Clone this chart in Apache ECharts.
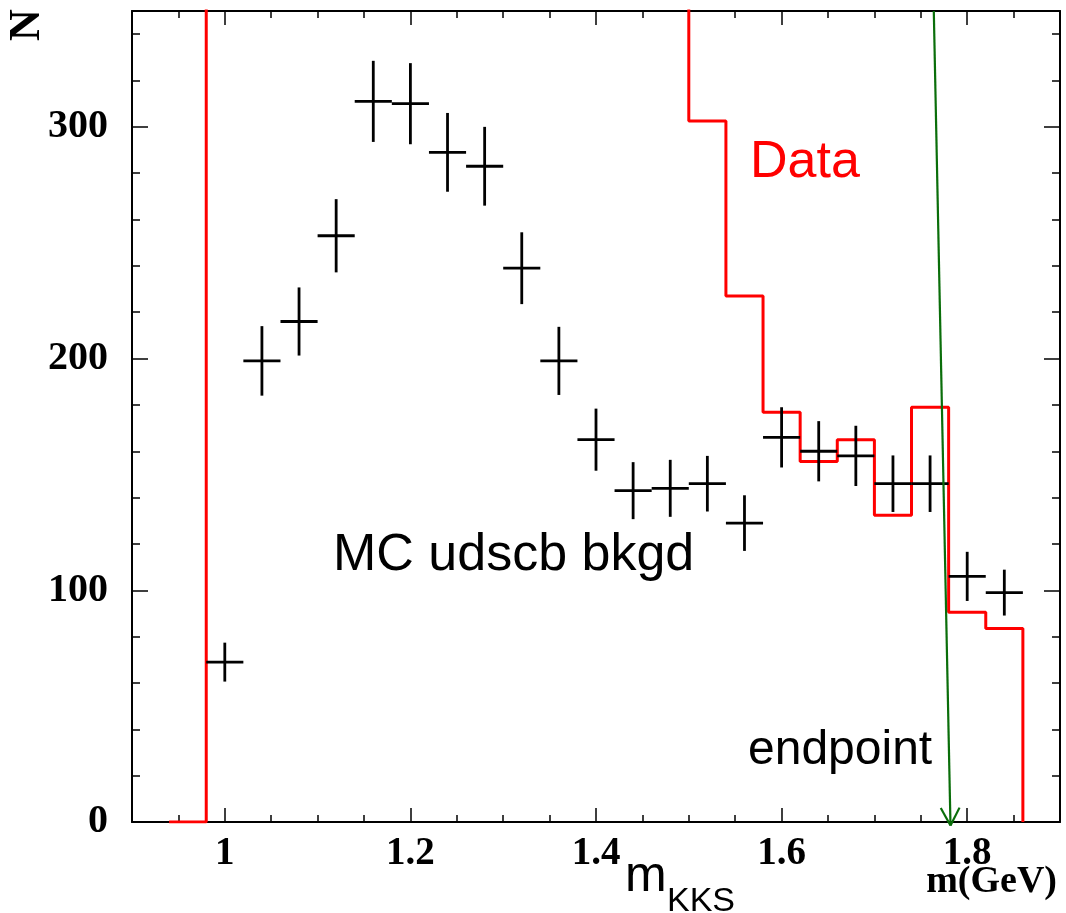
<!DOCTYPE html>
<html>
<head>
<meta charset="utf-8">
<script src="https://cdn.jsdelivr.net/npm/echarts@6/dist/echarts.min.js"></script>
<style>
  html, body { margin: 0; padding: 0; background: #fff; }
  #chart { width: 1066px; height: 913px; }
</style>
</head>
<body>
<div id="chart"></div>
<script>
// ---------- data ----------
const xRange = [0.9, 1.9];
const yRange = [0, 350];
const xMajorTicks = [1, 1.2, 1.4, 1.6, 1.8];
const yMajorTicks = [0, 100, 200, 300];
const xMinorStep = 0.05;
const yMinorStep = 20;

// MC udscb background (black crosses): bin centres, counts, errors
const mcX   = [1.00, 1.04, 1.08, 1.12, 1.16, 1.20, 1.24, 1.28, 1.32, 1.36, 1.40,
               1.44, 1.48, 1.52, 1.56, 1.60, 1.64, 1.68, 1.72, 1.76, 1.80, 1.84];
const mcY   = [69, 199, 216, 253, 311, 310, 289, 283, 239, 199, 165,
               143, 144, 146, 129, 166, 160, 158, 146, 146, 106, 99];
const mcErr = [8.4, 15, 14.7, 15.8, 17.5, 17.5, 17, 17, 15.5, 14.7, 13.4,
               12.3, 12.3, 12, 12, 13, 13, 13, 12.2, 12.2, 10.6, 9.9];
const mcBinHalfWidth = 0.02;

// Data histogram (red): lower bin edges, last upper edge, contents
// (bins 0.98-1.50 are above the plotted range, so their exact height is not readable)
const dataBinLow = [0.94, 0.98, 1.02, 1.06, 1.10, 1.14, 1.18, 1.22, 1.26, 1.30, 1.34,
                    1.38, 1.42, 1.46, 1.50, 1.54, 1.58, 1.62, 1.66, 1.70, 1.74, 1.78, 1.82];
const dataBinLastHigh = 1.86;
const dataVals   = [0, 420, 420, 420, 420, 420, 420, 420, 420, 420, 420,
                    420, 420, 420, 302.5, 227, 176.8, 155.6, 165, 132.4, 179, 90.5, 83.5];

// endpoint arrow: [xStart, yStart, xEnd, yEnd]
const endpointArrow = [[1.764, 350, 1.782, -1.5]];

// ---------- helpers ----------
function minorValues(lo, hi, step, majors) {
  const out = [];
  const n = Math.round((hi - lo) / step);
  for (let k = 1; k < n; k++) {
    const v = Math.round((lo + k * step) * 1000) / 1000;
    if (!majors.some(m => Math.abs(m - v) < 1e-9)) out.push(v);
  }
  return out;
}
const xMinorTicks = minorValues(xRange[0], xRange[1], xMinorStep, xMajorTicks);
const yMinorTicks = minorValues(yRange[0], yRange[1], yMinorStep, yMajorTicks);

const stepPts = [];
for (let i = 0; i < dataBinLow.length; i++) {
  const lo = dataBinLow[i];
  const hi = i + 1 < dataBinLow.length ? dataBinLow[i + 1] : dataBinLastHigh;
  if (i === 0) stepPts.push([lo, 0]);
  stepPts.push([lo, dataVals[i]]);
  stepPts.push([hi, dataVals[i]]);
}
stepPts.push([dataBinLastHigh, 0]);

const mcData = mcX.map((x, i) => [x, mcY[i], mcErr[i]]);

// ---------- chart ----------
const serif = '"Liberation Serif", "DejaVu Serif", serif';
const sans = '"Liberation Sans", Arial, sans-serif';
const black = '#000';

function xAxisDef(pos, ticks, len, showLine, showLabel) {
  return {
    type: 'value', position: pos, min: xRange[0], max: xRange[1],
    axisLine: { show: showLine, onZero: false, lineStyle: { color: black, width: 2 } },
    axisTick: { show: true, inside: true, length: len, customValues: ticks,
                lineStyle: { color: black, width: 1.5 } },
    axisLabel: showLabel ? { show: true, customValues: ticks, margin: 12,
                fontFamily: serif, fontSize: 39, fontWeight: 'bold', color: black } : { show: false },
    splitLine: { show: false }
  };
}
function yAxisDef(pos, ticks, len, showLine, showLabel) {
  return {
    type: 'value', position: pos, min: yRange[0], max: yRange[1],
    axisLine: { show: showLine, onZero: false, lineStyle: { color: black, width: 2 } },
    axisTick: { show: true, inside: true, length: len, customValues: ticks,
                lineStyle: { color: black, width: 1.5 } },
    axisLabel: showLabel ? { show: true, customValues: ticks, margin: 24,
                fontFamily: serif, fontSize: 40, fontWeight: 'bold', color: black } : { show: false },
    splitLine: { show: false }
  };
}

const chart = echarts.init(document.getElementById('chart'), null, { renderer: 'canvas' });
chart.setOption({
  animation: false,
  backgroundColor: '#fff',
  grid: { left: 132, right: 6, top: 11, bottom: 91, containLabel: false },
  xAxis: [
    xAxisDef('bottom', xMajorTicks, 14, true, true),
    xAxisDef('bottom', xMinorTicks, 7, false, false),
    xAxisDef('top', xMajorTicks, 14, true, false),
    xAxisDef('top', xMinorTicks, 7, false, false)
  ],
  yAxis: [
    yAxisDef('left', yMajorTicks, 16, true, true),
    yAxisDef('left', yMinorTicks, 8, false, false),
    yAxisDef('right', yMajorTicks, 16, true, false),
    yAxisDef('right', yMinorTicks, 8, false, false)
  ],
  series: [
    {
      name: 'Data', type: 'line', data: stepPts, xAxisIndex: 0, yAxisIndex: 0,
      showSymbol: false, symbol: 'none', clip: true,
      lineStyle: { color: '#ff0000', width: 3 }, z: 3
    },
    {
      name: 'MC udscb bkgd', type: 'custom', data: mcData, xAxisIndex: 0, yAxisIndex: 0,
      z: 4,
      renderItem: function (params, api) {
        const x = api.value(0), y = api.value(1), e = api.value(2);
        const pL = api.coord([x - mcBinHalfWidth, y]);
        const pR = api.coord([x + mcBinHalfWidth, y]);
        const pT = api.coord([x, y + e]);
        const pB = api.coord([x, y - e]);
        const st = { stroke: black, lineWidth: 2.8 };
        return { type: 'group', children: [
          { type: 'line', shape: { x1: pL[0], y1: pL[1], x2: pR[0], y2: pR[1] }, style: st },
          { type: 'line', shape: { x1: pT[0], y1: pT[1], x2: pB[0], y2: pB[1] }, style: st }
        ]};
      }
    },
    {
      name: 'endpoint', type: 'custom', data: endpointArrow, xAxisIndex: 0, yAxisIndex: 0,
      clip: false, z: 5,
      renderItem: function (params, api) {
        const p0 = api.coord([api.value(0), api.value(1)]);
        const p1 = api.coord([api.value(2), api.value(3)]);
        const dx = p1[0] - p0[0], dy = p1[1] - p0[1];
        const L = Math.sqrt(dx * dx + dy * dy);
        const ux = dx / L, uy = dy / L;
        const head = 20, ang = 28 * Math.PI / 180;
        function arm(sign) {
          const c = Math.cos(sign * ang), s = Math.sin(sign * ang);
          const bx = -ux, by = -uy;
          return [p1[0] + head * (bx * c - by * s), p1[1] + head * (bx * s + by * c)];
        }
        const a1 = arm(1), a2 = arm(-1);
        const st = { stroke: '#0a6e0a', lineWidth: 2.2 };
        return { type: 'group', children: [
          { type: 'line', shape: { x1: p0[0], y1: p0[1], x2: p1[0], y2: p1[1] }, style: st },
          { type: 'line', shape: { x1: p1[0], y1: p1[1], x2: a1[0], y2: a1[1] }, style: st },
          { type: 'line', shape: { x1: p1[0], y1: p1[1], x2: a2[0], y2: a2[1] }, style: st }
        ]};
      }
    }
  ],
  graphic: [
    { type: 'text', x: 750, y: 163, z: 10,
      style: { text: 'Data', fill: '#ff0000', font: '52px ' + sans, verticalAlign: 'middle', align: 'left' } },
    { type: 'text', x: 333, y: 556, z: 10,
      style: { text: 'MC udscb bkgd', fill: black, font: '52px ' + sans, verticalAlign: 'middle', align: 'left' } },
    { type: 'text', x: 748, y: 751, z: 10,
      style: { text: 'endpoint', fill: black, font: '48px ' + sans, verticalAlign: 'middle', align: 'left' } },
    { type: 'text', x: 625, y: 877, z: 10,
      style: { text: 'm', fill: black, font: '50px ' + sans, verticalAlign: 'middle', align: 'left' } },
    { type: 'text', x: 667, y: 902, z: 10,
      style: { text: 'KKS', fill: black, font: '34px ' + sans, verticalAlign: 'middle', align: 'left' } },
    { type: 'text', x: 1057, y: 882, z: 10,
      style: { text: 'm(GeV)', fill: black, font: 'bold 38px ' + serif, verticalAlign: 'middle', align: 'right' } },
    { type: 'text', x: 28, y: 25, rotation: Math.PI / 2, z: 10,
      style: { text: 'N', fill: black, font: 'bold 44px ' + serif, verticalAlign: 'middle', align: 'center' } }
  ]
});
</script>
</body>
</html>
